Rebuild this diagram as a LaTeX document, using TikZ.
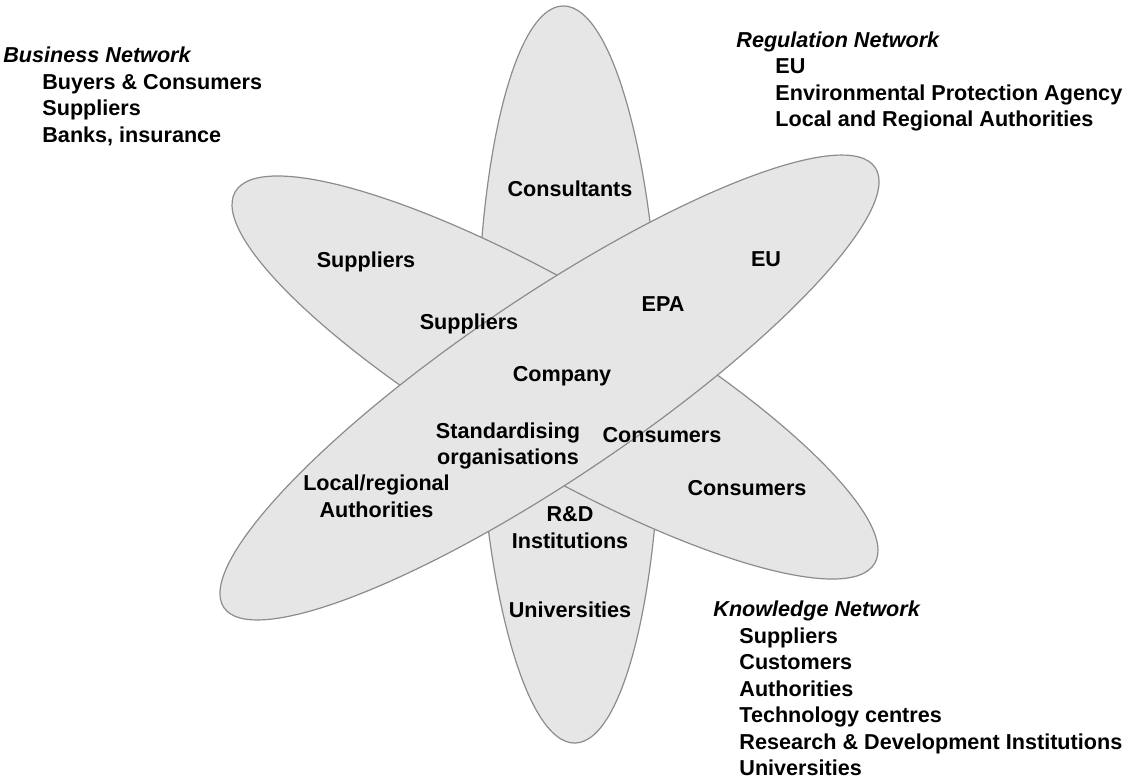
\documentclass[tikz,border=0pt]{standalone}
\usepackage{fontspec}
\setmainfont{Liberation Sans}
\definecolor{petalfill}{HTML}{E6E6E6}
\definecolor{petaledge}{HTML}{8C8C8C}
\begin{document}
\begin{tikzpicture}[x=0.5pt,y=-0.5pt,
  petal/.style={fill=petalfill, draw=petaledge, line width=0.6pt},
  lbl/.style={font=\fontsize{10.8pt}{13.2pt}\selectfont\bfseries, inner sep=0pt, align=center, anchor=base},
  head/.style={font=\fontsize{10.8pt}{13.2pt}\selectfont\bfseries\itshape, inner sep=0pt, anchor=base west},
  item/.style={font=\fontsize{10.8pt}{13.2pt}\selectfont\bfseries, inner sep=0pt, anchor=base west}]
\useasboundingbox (0,0) rectangle (1136,778);

% knowledge petal (vertical), business petal, regulation petal on top
\draw[petal, rotate around={0.93:(569,374.5)}] (569,374.5) ellipse [x radius=45.75pt, y radius=184.3pt];
\draw[petal, rotate around={-30.15:(555,377.5)}] (555,377.5) ellipse [x radius=184.9pt, y radius=45.15pt];
\draw[petal, rotate around={34.05:(549.5,387.5)}] (549.5,387.5) ellipse [x radius=196.5pt, y radius=45.1pt];

% labels inside the petals (two-line labels sit on the baseline of their last line)
\node[lbl] (consultants) at (570,196.5) {Consultants};
\node[lbl] (suppout) at (366,267.5) {Suppliers};
\node[lbl] (eu) at (766,266.5) {EU};
\node[lbl] (epa) at (663,311.5) {EPA};
\node[lbl] (suppin) at (469,329.5) {Suppliers};
\node[lbl] (company) at (562,381.5) {Company};
\node[lbl] (standard) at (508,464.5) {Standardising\\organisations};
\node[lbl] (consin) at (662,442.5) {Consumers};
\node[lbl] (consout) at (747,495.5) {Consumers};
\node[lbl] (localauth) at (376.5,517) {Local/regional\\Authorities};
\node[lbl] (rnd) at (570,548) {R\&D\\Institutions};
\node[lbl] (univ) at (570,617.5) {Universities};

% business network legend
\node[head] (bnet) at (3,62) {Business Network};
\node[item] (b1) at (42,89) {Buyers \& Consumers};
\node[item] (b2) at (42,115.5) {Suppliers};
\node[item] (b3) at (42,142) {Banks, insurance};

% regulation network legend
\node[head] (rnet) at (736,47) {Regulation Network};
\node[item] (r1) at (775,73.5) {EU};
\node[item] (r2) at (775,100) {Environmental Protection Agency};
\node[item] (r3) at (775,126.5) {Local and Regional Authorities};

% knowledge network legend
\node[head] (knet) at (713,616.5) {Knowledge Network};
\node[item] (k1) at (739,643) {Suppliers};
\node[item] (k2) at (739,669.5) {Customers};
\node[item] (k3) at (739,696) {Authorities};
\node[item] (k4) at (739,722.5) {Technology centres};
\node[item] (k5) at (739,749) {Research \& Development Institutions};
\node[item] (k6) at (739,775.5) {Universities};
\end{tikzpicture}
\end{document}
